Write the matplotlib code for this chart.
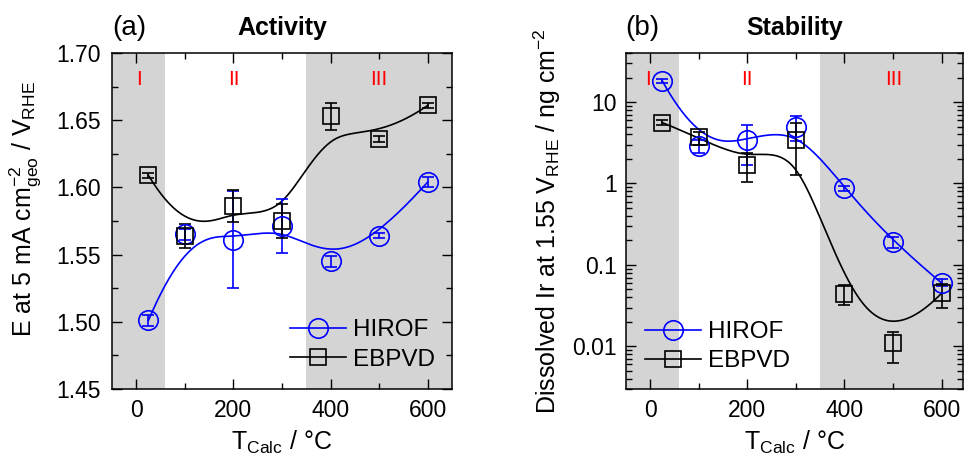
import numpy as np
import matplotlib
matplotlib.use('Agg')
import matplotlib.pyplot as plt
from matplotlib.lines import Line2D
from matplotlib.ticker import MultipleLocator, FixedLocator, FuncFormatter, NullFormatter
import matplotlib.transforms as mtransforms

plt.rcParams['font.family'] = ['Liberation Sans', 'DejaVu Sans']
plt.rcParams['mathtext.fontset'] = 'custom'
plt.rcParams['mathtext.rm'] = 'Liberation Sans'
plt.rcParams['mathtext.it'] = 'Liberation Sans:italic'
plt.rcParams['mathtext.bf'] = 'Liberation Sans:bold'
plt.rcParams['mathtext.default'] = 'regular'

# calcination temperatures (deg C)
t_calc = [25, 100, 200, 300, 400, 500, 600]

# potential at 5 mA cm-2 (V vs RHE)
act_hirof = [1.501, 1.565, 1.561, 1.571, 1.545, 1.564, 1.604]
act_hirof_err = [0.004, 0.004, 0.036, 0.020, 0.004, 0.002, 0.004]
act_ebpvd = [1.609, 1.564, 1.586, 1.575, 1.653, 1.636, 1.661]
act_ebpvd_err = [0.002, 0.009, 0.012, 0.013, 0.010, 0.002, 0.002]

# dissolved Ir at 1.55 V (ng cm-2), with lower / upper error bounds
stab_hirof = [18.3, 2.85, 3.4, 5.0, 0.87, 0.19, 0.060]
stab_hirof_lo = [17.3, 2.35, 1.7, 3.3, 0.81, 0.162, 0.055]
stab_hirof_hi = [19.4, 3.4, 5.2, 6.8, 0.93, 0.221, 0.067]
stab_ebpvd = [5.6, 3.7, 1.7, 3.4, 0.044, 0.011, 0.045]
stab_ebpvd_lo = [5.3, 3.0, 1.03, 1.28, 0.032, 0.0062, 0.030]
stab_ebpvd_hi = [6.0, 4.3, 2.35, 5.6, 0.057, 0.0152, 0.058]

regions = ['I', 'II', 'III']
grey_bands = [(-50, 60), (350, 650)]

BLUE = '#0000ff'
BLACK = '#000000'
GREY = '#d4d4d4'


def bspline_basis(knots, k, u):
    m = len(knots) - 1
    B = np.zeros((len(u), m))
    for i in range(m):
        B[:, i] = (knots[i] <= u) & (u < knots[i + 1])
    last = np.where(knots < knots[-1])[0][-1]
    B[u >= knots[-1], last] = 1.0
    for d in range(1, k + 1):
        Bn = np.zeros((len(u), m - d))
        for i in range(m - d):
            a = knots[i + d] - knots[i]
            b = knots[i + d + 1] - knots[i + 1]
            t1 = (u - knots[i]) / a * B[:, i] if a > 0 else 0.0
            t2 = (knots[i + d + 1] - u) / b * B[:, i + 1] if b > 0 else 0.0
            Bn[:, i] = t1 + t2
        B = Bn
    return B


def bspline(xs, ys, k=3, n=400):
    # clamped uniform B-spline using the data points as control points
    pts = np.column_stack([xs, ys])
    m = len(pts)
    knots = np.concatenate([[0] * k, np.arange(m - k + 1), [m - k] * k]).astype(float)
    u = np.linspace(0, m - k, n)
    curve = bspline_basis(knots, k, u) @ pts
    return curve[:, 0], curve[:, 1]


def style_axes(ax, ypad):
    for s in ax.spines.values():
        s.set_linewidth(1.1)
    ax.tick_params(which='both', direction='in', top=True, right=True, width=1.0,
                   labelsize=16.5)
    ax.tick_params(which='major', length=7)
    ax.tick_params(which='minor', length=4)
    ax.tick_params(axis='x', pad=7)
    ax.tick_params(axis='y', pad=ypad)
    ax.xaxis.set_major_locator(MultipleLocator(200))
    ax.xaxis.set_minor_locator(MultipleLocator(100))
    for lo, hi in grey_bands:
        ax.axvspan(lo, hi, color=GREY, lw=0, zorder=0)
    ax.set_xlabel(r'T$_{Calc}$ / °C', fontsize=18, labelpad=5)


def region_labels(ax, xs):
    trans = mtransforms.blended_transform_factory(ax.transData, ax.transAxes)
    for x, lab in zip(xs, regions):
        ax.text(x, 0.92, lab, color='red', fontsize=15, ha='center', va='center',
                transform=trans)


def legend(ax, x, y):
    handles = [
        Line2D([], [], color=BLUE, lw=1.2, marker='o', ms=14, mfc='none', mew=1.2),
        Line2D([], [], color=BLACK, lw=1.2, marker='s', ms=12, mfc='none', mew=1.2),
    ]
    ax.legend(handles, ['HIROF', 'EBPVD'], loc='center left', bbox_to_anchor=(x, y),
              frameon=False, fontsize=17.5, numpoints=1, handlelength=2.3,
              handletextpad=0.3, labelspacing=0.3, borderpad=0, borderaxespad=0)


fig = plt.figure(figsize=(9.66, 4.67), dpi=100)
ax1 = fig.add_axes([112 / 966, 78 / 467, 340 / 966, 336 / 467])
ax2 = fig.add_axes([625.7 / 966, 78 / 467, 337.3 / 966, 336 / 467])

# (a) activity
style_axes(ax1, 8)
ax1.set_xlim(-50, 650)
ax1.set_ylim(1.45, 1.70)
ax1.yaxis.set_major_locator(MultipleLocator(0.05))
ax1.yaxis.set_minor_locator(MultipleLocator(0.025))
ax1.yaxis.set_major_formatter(FuncFormatter(lambda v, p: f'{v:.2f}'))

for ys, err, col, mk, ms in [(act_hirof, act_hirof_err, BLUE, 'o', 14),
                             (act_ebpvd, act_ebpvd_err, BLACK, 's', 12)]:
    cx, cy = bspline(t_calc, ys)
    ax1.plot(cx, cy, color=col, lw=1.2, zorder=2)
    ax1.errorbar(t_calc, ys, yerr=err, fmt='none', ecolor=col, elinewidth=1.2,
                 capsize=4.5, capthick=1.2, zorder=3)
    ax1.plot(t_calc, ys, linestyle='none', marker=mk, ms=ms, mfc='none', mec=col,
             mew=1.2, zorder=4)

region_labels(ax1, [5, 200, 500])
legend(ax1, 0.524, 0.131)
ax1.set_ylabel(r'E at 5 mA cm$^{-2}_{geo}$ / V$_{RHE}$', fontsize=18)
ax1.yaxis.set_label_coords(-0.203, 0.535)
ax1.set_title('Activity', fontweight='bold', fontsize=18, pad=13)
ax1.set_title('(a)', loc='left', fontsize=20, pad=13)

# (b) stability
style_axes(ax2, 6.5)
ax2.set_yscale('log')
ax2.set_xlim(-50, 644)
ax2.set_ylim(0.003, 40)
ax2.yaxis.set_major_locator(FixedLocator([0.01, 0.1, 1, 10]))
ax2.yaxis.set_major_formatter(FuncFormatter(lambda v, p: f'{v:g}'))
minors = [m * 10.0 ** e for e in range(-3, 2) for m in range(2, 10)]
ax2.yaxis.set_minor_locator(FixedLocator(minors))
ax2.yaxis.set_minor_formatter(NullFormatter())

for ys, lo, hi, col, mk, ms in [(stab_hirof, stab_hirof_lo, stab_hirof_hi, BLUE, 'o', 14),
                                (stab_ebpvd, stab_ebpvd_lo, stab_ebpvd_hi, BLACK, 's', 12)]:
    ys = np.array(ys)
    cx, cy = bspline(t_calc, np.log10(ys))
    ax2.plot(cx, 10 ** cy, color=col, lw=1.2, zorder=2)
    yerr = np.vstack([ys - np.array(lo), np.array(hi) - ys])
    ax2.errorbar(t_calc, ys, yerr=yerr, fmt='none', ecolor=col, elinewidth=1.2,
                 capsize=4.5, capthick=1.2, zorder=3)
    ax2.plot(t_calc, ys, linestyle='none', marker=mk, ms=ms, mfc='none', mec=col,
             mew=1.2, zorder=4)

region_labels(ax2, [-5, 200, 502])
legend(ax2, 0.057, 0.126)
ax2.set_ylabel(r'Dissolved Ir at 1.55 V$_{RHE}$ / ng cm$^{-2}$', fontsize=18)
ax2.yaxis.set_label_coords(-0.186, 0.5)
ax2.set_title('Stability', fontweight='bold', fontsize=18, pad=13)
ax2.set_title('(b)', loc='left', fontsize=20, pad=13)

fig.savefig('out.png', dpi=100)
